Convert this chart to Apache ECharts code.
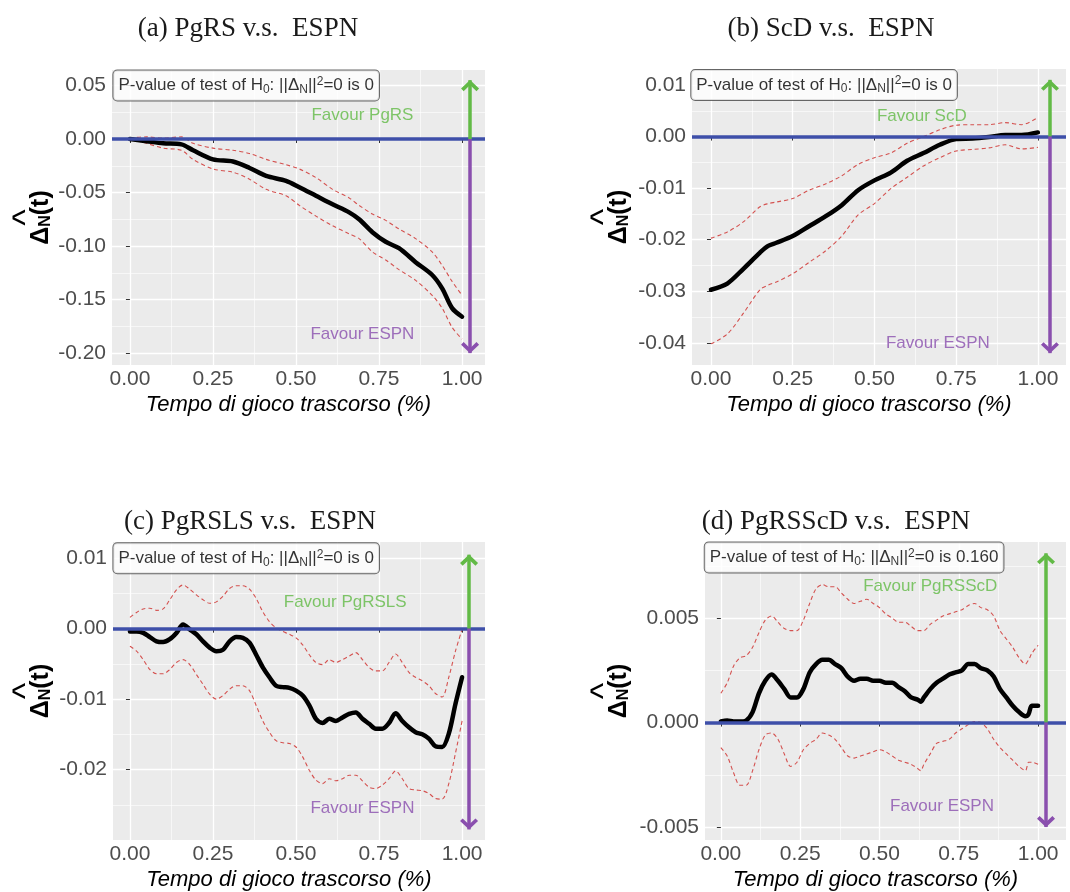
<!DOCTYPE html>
<html><head><meta charset="utf-8">
<script src="https://cdn.jsdelivr.net/npm/echarts@6/dist/echarts.min.js"></script>
<style>html,body{margin:0;padding:0;background:#fff}#c{width:1070px;height:892px}</style>
</head><body><div id="c"></div>
<script>
// ---------------- DATA ----------------
const titles = ['(a) PgRS v.s.  ESPN', '(b) ScD v.s.  ESPN', '(c) PgRSLS v.s.  ESPN', '(d) PgRSScD v.s.  ESPN'];
const favourUp = ['Favour PgRS', 'Favour ScD', 'Favour PgRSLS', 'Favour PgRSScD'];
const favourDown = 'Favour ESPN';
const pValues = ['0', '0', '0', '0.160'];
const xTitle = 'Tempo di gioco trascorso (%)';

const xMajor = [0, 0.25, 0.5, 0.75, 1];
const xMinor = [0.125, 0.375, 0.625, 0.875];
const yMajorA = [-0.20, -0.15, -0.10, -0.05, 0, 0.05];
const yMinorA = [-0.175, -0.125, -0.075, -0.025, 0.025];
const yMajorB = [-0.04, -0.03, -0.02, -0.01, 0, 0.01];
const yMinorB = [-0.035, -0.025, -0.015, -0.005, 0.005];
const yMajorC = [-0.02, -0.01, 0, 0.01];
const yMinorC = [-0.025, -0.015, -0.005, 0.005];
const yMajorD = [-0.005, 0, 0.005];
const yMinorD = [-0.0025, 0.0025, 0.0075];
const yDecimals = [2, 2, 2, 3];

// panel (a)
const xA   = [0, 0.05, 0.10, 0.155, 0.19, 0.25, 0.31, 0.36, 0.41, 0.47, 0.51, 0.56, 0.61, 0.66, 0.69, 0.73, 0.77, 0.81, 0.86, 0.91, 0.94, 0.97, 1.0];
const estA = [0, -0.002, -0.004, -0.005, -0.0105, -0.019, -0.021, -0.027, -0.0345, -0.039, -0.045, -0.053, -0.061, -0.0685, -0.075, -0.087, -0.096, -0.102, -0.115, -0.127, -0.1395, -0.158, -0.166];
const upA  = [0.001, 0.002, 0.001, 0.002, -0.004, -0.0085, -0.0105, -0.0135, -0.019, -0.024, -0.028, -0.036, -0.047, -0.055, -0.062, -0.070, -0.076, -0.084, -0.093, -0.1055, -0.118, -0.133, -0.146];
const loA  = [0, -0.004, -0.0085, -0.0105, -0.019, -0.028, -0.031, -0.0375, -0.047, -0.053, -0.062, -0.072, -0.081, -0.0885, -0.093, -0.1055, -0.113, -0.122, -0.132, -0.146, -0.158, -0.176, -0.187];

// panel (b)
const xB   = [0, 0.05, 0.10, 0.15, 0.175, 0.20, 0.25, 0.30, 0.35, 0.40, 0.45, 0.50, 0.55, 0.60, 0.65, 0.70, 0.75, 0.80, 0.85, 0.90, 0.95, 1.0];
const estB = [-0.0297, -0.0285, -0.0256, -0.0225, -0.0212, -0.0206, -0.0193, -0.0174, -0.0155, -0.0133, -0.0104, -0.0085, -0.0070, -0.0047, -0.0032, -0.0016, -0.0005, -0.0004, -0.0001, 0.0003, 0.0003, 0.0008];
const upB  = [-0.0197, -0.0185, -0.0165, -0.0136, -0.0130, -0.0127, -0.0120, -0.0104, -0.0092, -0.0076, -0.0054, -0.0041, -0.0032, -0.0013, 0, 0.0013, 0.0022, 0.0023, 0.0023, 0.0027, 0.0023, 0.0037];
const loB  = [-0.0402, -0.0383, -0.0342, -0.0297, -0.0288, -0.0282, -0.0266, -0.0244, -0.0222, -0.0193, -0.0152, -0.0130, -0.0101, -0.0079, -0.0057, -0.0041, -0.0028, -0.0025, -0.0022, -0.0016, -0.0024, -0.0021];

// panel (c)
const xC = [0, 0.02, 0.04, 0.06, 0.08, 0.10, 0.12, 0.14, 0.16, 0.18, 0.20, 0.22, 0.24, 0.26, 0.28, 0.30, 0.32, 0.34, 0.36, 0.38, 0.40, 0.42, 0.44, 0.46, 0.48, 0.50,
            0.52, 0.54, 0.56, 0.58, 0.60, 0.62, 0.64, 0.66, 0.68, 0.70, 0.72, 0.74, 0.76, 0.78, 0.80, 0.82, 0.84, 0.86, 0.88, 0.90, 0.92, 0.94, 0.96, 0.98, 1.00];
const estC = [-0.0004, -0.0004, -0.0006, -0.0012, -0.0018, -0.0019, -0.0015, -0.0006, 0.0006, -0.0001, -0.0008, -0.0018, -0.0027, -0.0032, -0.0030, -0.0018, -0.0012, -0.0013, -0.0020, -0.0037, -0.0055, -0.0069, -0.0081, -0.0083, -0.0084, -0.0088,
              -0.0095, -0.0109, -0.0128, -0.0134, -0.0128, -0.0131, -0.0126, -0.0121, -0.0119, -0.0128, -0.0135, -0.0142, -0.0142, -0.0134, -0.0120, -0.0131, -0.0140, -0.0147, -0.0150, -0.0156, -0.0167, -0.0168, -0.0149, -0.0107, -0.0069];
const upC  = [0.0016, 0.0023, 0.0028, 0.0029, 0.0026, 0.0028, 0.0041, 0.0055, 0.0062, 0.0056, 0.0048, 0.0041, 0.0036, 0.0038, 0.0046, 0.0057, 0.0061, 0.0061, 0.0056, 0.0043, 0.0024, 0.0010, 0.0001, -0.0004, -0.0008, -0.0013,
              -0.0023, -0.0037, -0.0048, -0.0051, -0.0044, -0.0048, -0.0044, -0.0039, -0.0034, -0.0044, -0.0055, -0.0060, -0.0060, -0.0048, -0.0036, -0.0048, -0.0062, -0.0069, -0.0074, -0.0081, -0.0092, -0.0097, -0.0069, -0.0032, -0.0001];
const loC  = [-0.0025, -0.0032, -0.0044, -0.0058, -0.0064, -0.0064, -0.0058, -0.0048, -0.0044, -0.0051, -0.0065, -0.0079, -0.0093, -0.0100, -0.0095, -0.0086, -0.0081, -0.0081, -0.0088, -0.0109, -0.0131, -0.0147, -0.0159, -0.0162, -0.0163, -0.0168,
              -0.0182, -0.0201, -0.0215, -0.0220, -0.0213, -0.0216, -0.0213, -0.0208, -0.0208, -0.0216, -0.0225, -0.0227, -0.0222, -0.0213, -0.0202, -0.0213, -0.0227, -0.0229, -0.0230, -0.0234, -0.0241, -0.0242, -0.0220, -0.0177, -0.0131];

// panel (d)
const xD = [0, 0.02, 0.04, 0.06, 0.08, 0.10, 0.12, 0.14, 0.16, 0.18, 0.20, 0.22, 0.24, 0.26, 0.28, 0.30, 0.32, 0.34, 0.36, 0.38, 0.40, 0.42, 0.44, 0.46, 0.48, 0.50,
            0.52, 0.54, 0.56, 0.58, 0.60, 0.62, 0.63, 0.64, 0.66, 0.68, 0.70, 0.72, 0.74, 0.76, 0.78, 0.80, 0.82, 0.84, 0.86, 0.88, 0.90, 0.92, 0.94, 0.96, 0.97, 0.98, 1.00];
const estD = [0.00005, 0.0001, 0.00005, 0.00005, 0.0001, 0.0005, 0.0014, 0.0020, 0.0023, 0.0020, 0.0016, 0.0012, 0.0012, 0.0016, 0.0024, 0.0028, 0.0030, 0.0030, 0.0028, 0.0026, 0.0022, 0.0020, 0.0021, 0.0021, 0.0020, 0.0020,
              0.0019, 0.0019, 0.0017, 0.0015, 0.0012, 0.0011, 0.0010, 0.0012, 0.0016, 0.0019, 0.0021, 0.0023, 0.0024, 0.0025, 0.0028, 0.0028, 0.0026, 0.0025, 0.0022, 0.0016, 0.0012, 0.0008, 0.0005, 0.0003, 0.0004, 0.0008, 0.0008];
const upD  = [0.0014, 0.0019, 0.0027, 0.0031, 0.0032, 0.0036, 0.0043, 0.0049, 0.0051, 0.0048, 0.0045, 0.0044, 0.0044, 0.0049, 0.0057, 0.0064, 0.0066, 0.0065, 0.0065, 0.0062, 0.0059, 0.0057, 0.0058, 0.0059, 0.0057, 0.0055,
              0.0052, 0.0050, 0.0048, 0.0048, 0.0046, 0.0044, 0.0044, 0.0044, 0.0047, 0.0049, 0.0051, 0.0052, 0.0053, 0.0054, 0.0056, 0.0057, 0.0055, 0.0054, 0.0051, 0.0044, 0.0040, 0.0036, 0.0031, 0.0028, 0.0030, 0.0033, 0.0037];
const loD  = [-0.0012, -0.0016, -0.0024, -0.0030, -0.0030, -0.0023, -0.0013, -0.0006, -0.0005, -0.0008, -0.0015, -0.0021, -0.0019, -0.0013, -0.0010, -0.0008, -0.0005, -0.0006, -0.0008, -0.0012, -0.0016, -0.0017, -0.0016, -0.0015, -0.0014, -0.0013,
              -0.0014, -0.0016, -0.0018, -0.0019, -0.0020, -0.0022, -0.0023, -0.0020, -0.0015, -0.0010, -0.0009, -0.0008, -0.0005, -0.0003, -0.0001, 0.00005, 0, -0.0003, -0.0008, -0.0012, -0.0015, -0.0018, -0.0021, -0.0023, -0.0019, -0.0019, -0.0020];

// annotation anchors (data coordinates)
const arrowX      = [1.024, 1.037, 1.021, 1.025];
const arrowTop    = [0.055, 0.011, 0.0105, 0.0081];
const arrowBottom = [-0.20, -0.042, -0.0285, -0.0050];
const favUpPos    = [[0.70, 0.022], [0.645, 0.0039], [0.648, 0.0038], [0.66, 0.0065]];
const favDownPos  = [[0.70, -0.182], [0.694, -0.040], [0.70, -0.0255], [0.697, -0.0040]];
const pBoxPos     = [[0.35, 0.05], [0.346, 0.01], [0.35, 0.01], [0.42, 0.0079]];

// ---------------- LAYOUT ----------------
const layout = [
  {left: 112, top: 70,  width: 373, height: 295, xmin: -0.054, xmax: 1.069, ymin: -0.2111,  ymax: 0.0645,  tx: 248, ty: 15,  gap: 58},
  {left: 692, top: 69,  width: 374, height: 296, xmin: -0.058, xmax: 1.086, ymin: -0.0443,  ymax: 0.0131,  tx: 831, ty: 15,  gap: 60},
  {left: 113, top: 542, width: 372, height: 298, xmin: -0.051, xmax: 1.069, ymin: -0.0300,  ymax: 0.0123,  tx: 250, ty: 508, gap: 59},
  {left: 705, top: 542, width: 361, height: 298, xmin: -0.050, xmax: 1.088, ymin: -0.00562, ymax: 0.00864, tx: 836, ty: 508, gap: 73}
];
const sets = [
  {x: xA, est: estA, up: upA, lo: loA, yMaj: yMajorA, yMin: yMinorA},
  {x: xB, est: estB, up: upB, lo: loB, yMaj: yMajorB, yMin: yMinorB},
  {x: xC, est: estC, up: upC, lo: loC, yMaj: yMajorC, yMin: yMinorC},
  {x: xD, est: estD, up: upD, lo: loD, yMaj: yMajorD, yMin: yMinorD}
];

const BLUE = '#3E4FA9', GREEN = '#62BA46', PURPLE = '#8A4FAE', RED = '#D4514F';
const CHEV = 'path://M7,-9L7.01,-9L7,-8.99Z M7,0L14,7L12,9.2L7,4.2L2,9.2L0,7Z';
const zip = (xs, ys) => xs.map((v, i) => [v, ys[i]]);

const option = {animation: false, title: [], grid: [], xAxis: [], yAxis: [], series: []};

layout.forEach((L, i) => {
  const S = sets[i];
  const xi = 2 * i;
  option.title.push({
    text: titles[i], left: L.tx, top: L.ty, textAlign: 'center', padding: 0,
    textStyle: {fontFamily: 'Liberation Serif', fontSize: 27, fontWeight: 'normal', color: '#1a1a1a'}
  });
  option.grid.push({
    left: L.left, top: L.top, width: L.width, height: L.height,
    show: true, backgroundColor: '#EBEBEB', borderWidth: 0, containLabel: false, outerBoundsMode: 'none'
  });
  // major x
  option.xAxis.push({
    type: 'value', gridIndex: i, min: L.xmin, max: L.xmax, position: 'bottom',
    axisLine: {show: false},
    axisTick: {show: true, customValues: xMajor, length: 4, lineStyle: {color: '#333', width: 1}},
    axisLabel: {customValues: xMajor, formatter: v => v.toFixed(2), margin: 4, fontSize: 21, color: '#4D4D4D', fontFamily: 'Liberation Sans'},
    splitLine: {show: true, lineStyle: {color: '#ffffff', width: 1.3}},
    name: xTitle, nameLocation: 'middle', nameGap: 29,
    nameTextStyle: {fontStyle: 'italic', fontSize: 22, color: '#000', fontFamily: 'Liberation Sans', padding: [0, 20, 0, 0]}
  });
  // minor x
  option.xAxis.push({
    type: 'value', gridIndex: i, min: L.xmin, max: L.xmax, position: 'bottom',
    axisLine: {show: false}, axisTick: {show: false, customValues: xMinor}, axisLabel: {show: false, customValues: xMinor},
    splitLine: {show: true, lineStyle: {color: '#ffffff', width: 0.6}}
  });
  // major y
  option.yAxis.push({
    type: 'value', gridIndex: i, min: L.ymin, max: L.ymax, position: 'left',
    axisLine: {show: false},
    axisTick: {show: true, customValues: S.yMaj, length: 4, lineStyle: {color: '#333', width: 1}},
    axisLabel: {customValues: S.yMaj, formatter: v => v.toFixed(yDecimals[i]), margin: 6, fontSize: 21, color: '#4D4D4D', fontFamily: 'Liberation Sans'},
    splitLine: {show: true, lineStyle: {color: '#ffffff', width: 1.3}},
    name: '{h|^}\n{d|\u0394}{n|N}{t|(t)}', nameLocation: 'middle', nameRotate: 90, nameGap: L.gap,
    nameTextStyle: {
      rich: {
        h: {fontSize: 35, fontWeight: 'normal', fontFamily: 'Liberation Sans', color: '#000', lineHeight: 2, padding: [0, 0, 0, 0]},
        d: {fontSize: 25, fontWeight: 'bold', fontFamily: 'Liberation Sans', color: '#000', lineHeight: 26},
        n: {fontSize: 16, fontWeight: 'bold', fontFamily: 'Liberation Sans', color: '#000', lineHeight: 14, verticalAlign: 'bottom'},
        t: {fontSize: 25, fontWeight: 'bold', fontFamily: 'Liberation Sans', color: '#000', lineHeight: 26}
      }
    }
  });
  // minor y
  option.yAxis.push({
    type: 'value', gridIndex: i, min: L.ymin, max: L.ymax, position: 'left',
    axisLine: {show: false}, axisTick: {show: false, customValues: S.yMin}, axisLabel: {show: false, customValues: S.yMin},
    splitLine: {show: true, lineStyle: {color: '#ffffff', width: 0.6}}
  });

  const ax = {xAxisIndex: xi, yAxisIndex: xi};
  // horizontal zero line
  option.series.push(Object.assign({
    type: 'line', data: [], silent: true, symbol: 'none', z: 2,
    markLine: {silent: true, symbol: 'none', label: {show: false}, animation: false,
      lineStyle: {color: BLUE, width: 3.5, type: 'solid'}, data: [{yAxis: 0}]}
  }, ax));
  // bands and estimate
  option.series.push(Object.assign({
    type: 'line', data: zip(S.x, S.up), showSymbol: false, symbol: 'none', smooth: 0.3, silent: true, z: 3,
    lineStyle: {color: RED, width: 1.1, type: [4, 3]}
  }, ax));
  option.series.push(Object.assign({
    type: 'line', data: zip(S.x, S.lo), showSymbol: false, symbol: 'none', smooth: 0.3, silent: true, z: 3,
    lineStyle: {color: RED, width: 1.1, type: [4, 3]}
  }, ax));
  option.series.push(Object.assign({
    type: 'line', data: zip(S.x, S.est), showSymbol: false, symbol: 'none', smooth: 0.3, silent: true, z: 3,
    lineStyle: {color: '#000', width: 4.5, cap: 'round', join: 'round'}
  }, ax));
  // arrows
  option.series.push(Object.assign({
    type: 'line', data: [], silent: true, symbol: 'none', z: 4,
    markLine: {silent: true, symbol: ['none', CHEV], symbolSize: [18, 22], label: {show: false}, animation: false,
      lineStyle: {color: GREEN, width: 3.5, type: 'solid'}, itemStyle: {color: GREEN},
      data: [[{coord: [arrowX[i], 0]}, {coord: [arrowX[i], arrowTop[i]]}]]}
  }, ax));
  option.series.push(Object.assign({
    type: 'line', data: [], silent: true, symbol: 'none', z: 4,
    markLine: {silent: true, symbol: ['none', CHEV], symbolSize: [18, 22], label: {show: false}, animation: false,
      lineStyle: {color: PURPLE, width: 3.5, type: 'solid'}, itemStyle: {color: PURPLE},
      data: [[{coord: [arrowX[i], 0]}, {coord: [arrowX[i], arrowBottom[i]]}]]}
  }, ax));
  // text annotations
  option.series.push(Object.assign({
    type: 'scatter', silent: true, symbolSize: 1, z: 5,
    itemStyle: {color: 'rgba(0,0,0,0)'},
    data: [
      {value: favUpPos[i], label: {show: true, position: 'inside', formatter: favourUp[i], color: GREEN, fontSize: 17, fontFamily: 'Liberation Sans'}},
      {value: favDownPos[i], label: {show: true, position: 'inside', formatter: favourDown, color: PURPLE, fontSize: 17, fontFamily: 'Liberation Sans'}},
      {value: pBoxPos[i], label: {
        show: true, position: 'inside',
        formatter: 'P-value of test of H{sub|0}: ||\u0394{sub|N}||{sup|2}=0 is ' + pValues[i],
        color: '#000', fontSize: 17, lineHeight: 20, fontFamily: 'Liberation Sans',
        backgroundColor: '#fff', borderColor: '#444', borderWidth: 1, borderRadius: 4, padding: [5, 5, 5, 5],
        rich: {
          sub: {fontSize: 12, lineHeight: 10, verticalAlign: 'bottom', color: '#000', fontFamily: 'Liberation Sans'},
          sup: {fontSize: 12, lineHeight: 10, verticalAlign: 'top', color: '#000', fontFamily: 'Liberation Sans'}
        }
      }}
    ]
  }, ax));
});

const chart = echarts.init(document.getElementById('c'), null, {renderer: 'canvas'});
chart.setOption(option);
</script>
</body></html>
